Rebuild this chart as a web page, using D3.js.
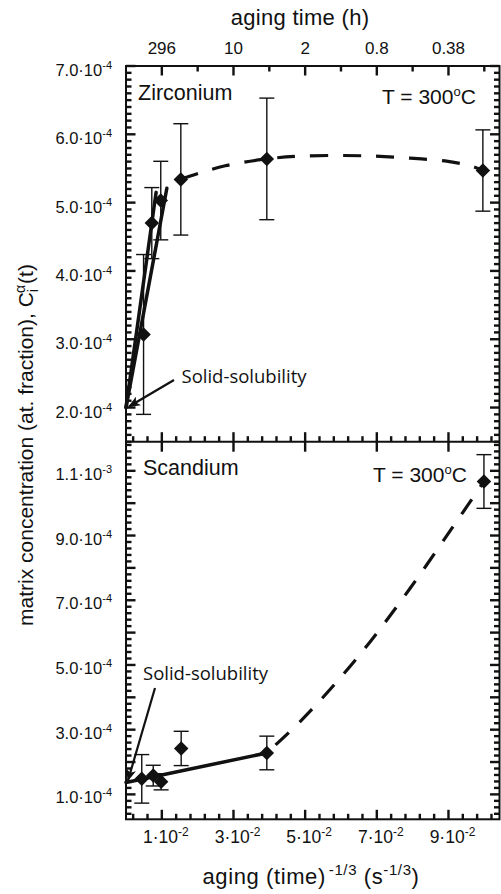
<!DOCTYPE html>
<html>
<head>
<meta charset="utf-8">
<script src="https://cdn.jsdelivr.net/npm/d3@7/dist/d3.min.js"></script>
<style>
  body { margin: 0; background: #fff; }
  text { font-family: "Liberation Sans", Arial, sans-serif; fill: #111; }
  .note { font-family: "Open Sans", "Noto Sans", sans-serif; }
</style>
</head>
<body>
<svg id="chart" width="501" height="894"></svg>
<script>
// ---- Zirconium: matrix concentration vs aging (time)^-1/3 ----
const zrX   = [0.0049, 0.0072, 0.0097, 0.0153, 0.0393, 0.0996];
const zrC   = [3.07e-4, 4.70e-4, 5.03e-4, 5.34e-4, 5.64e-4, 5.47e-4];
const zrErr = [1.17e-4, 0.52e-4, 0.575e-4, 0.815e-4, 0.89e-4, 0.595e-4];
const zrSolubility = 2.0e-4;
// straight fits drawn from the solid-solubility value
const zrFitEndX = [0.0084, 0.0114];
const zrFitEndC = [5.15e-4, 5.21e-4];
// coarsening trend (dashed)
const zrTrendX = [0.0153, 0.0204, 0.0277, 0.0393, 0.0486, 0.0598, 0.0695, 0.0793, 0.0890, 0.0960, 0.0996];
const zrTrendC = [5.34e-4, 5.43e-4, 5.54e-4, 5.64e-4, 5.68e-4, 5.69e-4, 5.68e-4, 5.65e-4, 5.61e-4, 5.54e-4, 5.47e-4];

// ---- Scandium ----
const scX   = [0.0044, 0.0076, 0.0098, 0.0154, 0.0393, 0.0999];
const scC   = [1.48e-4, 1.58e-4, 1.39e-4, 2.42e-4, 2.28e-4, 10.67e-4];
const scErr = [0.75e-4, 0.32e-4, 0.25e-4, 0.53e-4, 0.52e-4, 0.83e-4];
const scSolubility = 1.37e-4;
const scFitEndX = [0.0393];
const scFitEndC = [2.28e-4];
const scTrendX = [0.0393, 0.0486, 0.0578, 0.0681, 0.0793, 0.0905, 0.0999];
const scTrendC = [2.28e-4, 3.25e-4, 4.35e-4, 5.71e-4, 7.37e-4, 9.15e-4, 10.67e-4];

// ---- axis ticks and labels ----
const xMajor = [0.01, 0.03, 0.05, 0.07, 0.09];
const xMantissa = ["1", "3", "5", "7", "9"];
const xExp = "-2";
const topHours = ["296", "10", "2", "0.8", "0.38"];
const zrTicks = [7e-4, 6e-4, 5e-4, 4e-4, 3e-4, 2e-4];
const zrTickMantissa = ["7.0", "6.0", "5.0", "4.0", "3.0", "2.0"];
const zrTickExp = ["-4", "-4", "-4", "-4", "-4", "-4"];
const scTicks = [1.1e-3, 9e-4, 7e-4, 5e-4, 3e-4, 1e-4];
const scTickMantissa = ["1.1", "9.0", "7.0", "5.0", "3.0", "1.0"];
const scTickExp = ["-3", "-4", "-4", "-4", "-4", "-4"];

const svg = d3.select("#chart");
const L = 126, R = 499.5, T = 66, MID = 441.7, B = 819.3;

const x = d3.scaleLinear().domain([0, (R - L) / 3583]).range([L, R]);
const yZr = d3.scaleLinear().domain([1.5e-4, 7.0e-4]).range([MID, T]);
const ySc = d3.scaleLinear().domain([0.23e-4, 1.19e-3]).range([B, MID]);

const near = (a, b) => Math.abs(a - b) < 1e-9;
const xMinor = d3.range(0, 26).map(i => 0.002 + i * 0.004).filter(v => !xMajor.some(m => near(m, v)));
const xTopMinor = d3.range(1, 11).map(i => i * 0.01).filter(v => !xMajor.some(m => near(m, v)));
const zrMajorAll = d3.range(2, 8).map(i => i * 1e-4);
const zrMinor = d3.range(15, 71).map(i => i * 1e-5).filter(v => !zrMajorAll.some(m => near(m, v)));
const scMajorAll = d3.range(1, 12).map(i => i * 1e-4);
const scMinor = d3.range(2, 60).map(i => i * 2e-5).filter(v => !scMajorAll.some(m => near(m, v)));

// frame
svg.append("rect").attr("x", L).attr("y", T).attr("width", R - L).attr("height", B - T)
  .style("fill", "none").style("stroke", "#111").style("stroke-width", "2px");
svg.append("line").attr("x1", L).attr("x2", R).attr("y1", MID).attr("y2", MID)
  .style("stroke", "#111").style("stroke-width", "2px");

// frame tick marks, all pointing into the panels
const tickG = svg.append("g").attr("fill", "#111");
function xTickBars(values, yEdge, len) {
  values.forEach(v => {
    tickG.append("rect").attr("x", x(v) - 1.2).attr("width", 2.4)
      .attr("y", len > 0 ? yEdge : yEdge + len).attr("height", Math.abs(len));
  });
}
function yTickBars(scale, values, xEdge, len) {
  values.forEach(v => {
    tickG.append("rect").attr("y", scale(v) - 1.2).attr("height", 2.4)
      .attr("x", len > 0 ? xEdge : xEdge + len).attr("width", Math.abs(len));
  });
}
xTickBars(xMajor, T, 9.5);  xTickBars(xTopMinor, T, 5.5);
xTickBars(xMajor, MID, -9.5); xTickBars(xMinor, MID, -5.5); xTickBars(xMajor, MID, 10);
xTickBars(xMajor, B, -9.5); xTickBars(xMinor, B, -5.5);
yTickBars(yZr, zrMajorAll, L, 9.5); yTickBars(yZr, zrMinor, L, 5.5);
yTickBars(yZr, zrMajorAll, R, -9.5); yTickBars(yZr, zrMinor, R, -5.5);
yTickBars(ySc, scMajorAll, L, 9.5); yTickBars(ySc, scMinor, L, 5.5);
yTickBars(ySc, scMajorAll, R, -9.5); yTickBars(ySc, scMinor, R, -5.5);

// scientific tick label: mantissa·10^exp
function sciLabel(g, mant, exp, anchor, size) {
  const t = g.append("text").attr("text-anchor", anchor).style("font-size", size + "px");
  t.append("tspan").text(mant + "\u00B710");
  t.append("tspan").attr("dy", -7).style("font-size", Math.round(size * 0.68) + "px").text(exp);
  return t;
}

// y tick labels
zrTicks.forEach((v, i) => {
  const g = svg.append("g").attr("transform", `translate(112,${yZr(v) + 10})`);
  sciLabel(g, zrTickMantissa[i], zrTickExp[i], "end", 16.5);
});
scTicks.forEach((v, i) => {
  const g = svg.append("g").attr("transform", `translate(112,${ySc(v) + 9})`);
  sciLabel(g, scTickMantissa[i], scTickExp[i], "end", 16.5);
});
// bottom x tick labels
xMajor.forEach((v, i) => {
  const g = svg.append("g").attr("transform", `translate(${x(v) + 4},843)`);
  sciLabel(g, xMantissa[i], xExp, "middle", 17.5);
});
// top tick labels (aging time in hours)
xMajor.forEach((v, i) => {
  svg.append("text").attr("x", x(v)).attr("y", 54).attr("text-anchor", "middle")
    .style("font-size", "17px").text(topHours[i]);
});

// axis titles
svg.append("text").attr("x", 300).attr("y", 25).attr("text-anchor", "middle")
  .style("font-size", "22px").style("letter-spacing", "0.3px").text("aging time (h)");

const bt = svg.append("text").attr("x", 311).attr("y", 884).attr("text-anchor", "middle")
  .style("font-size", "22px").style("letter-spacing", "0.6px");
bt.append("tspan").text("aging (time)");
bt.append("tspan").attr("dy", -9).attr("dx", 3).style("font-size", "15px").text("-1/3");
bt.append("tspan").attr("dy", 9).text(" (s");
bt.append("tspan").attr("dy", -9).style("font-size", "15px").text("-1/3");
bt.append("tspan").attr("dy", 9).text(")");

const yt = svg.append("text").attr("transform", "translate(33,445) rotate(-90)")
  .attr("text-anchor", "middle").style("font-size", "21px");
yt.append("tspan").text("matrix concentration (at. fraction), C");
yt.append("tspan").attr("dy", 5).style("font-size", "14px").text("i");
yt.append("tspan").attr("dy", -13).attr("dx", -4).style("font-size", "14px").text("\u03B1");
yt.append("tspan").attr("dy", 8).attr("dx", 1).text("(t)");

// panel titles
svg.append("text").attr("x", 138).attr("y", 100).style("font-size", "21.5px").text("Zirconium");
svg.append("text").attr("x", 143).attr("y", 475).style("font-size", "21.5px").text("Scandium");
function tempLabel(xx, yy) {
  const t = svg.append("text").attr("x", xx).attr("y", yy).style("font-size", "21px");
  t.append("tspan").text("T = 300");
  t.append("tspan").attr("dy", -8).style("font-size", "13px").text("o");
  t.append("tspan").attr("dy", 8).text("C");
}
tempLabel(382, 104);
tempLabel(373, 482);

// arrow marker
const defs = svg.append("defs");
defs.append("marker").attr("id", "arrowhead").attr("markerUnits", "userSpaceOnUse")
  .attr("viewBox", "0 0 12 10").attr("refX", 11).attr("refY", 5)
  .attr("markerWidth", 13).attr("markerHeight", 10).attr("orient", "auto")
  .append("path").attr("d", "M0,0 L12,5 L0,10 L3,5 Z").attr("fill", "#111");

function panel(xs, cs, errs, y, sol, fitX, fitC, trendX, trendC, dashOffset) {
  // straight fits from the solubility value
  fitX.forEach((fx, i) => {
    svg.append("line").attr("x1", x(0)).attr("y1", y(sol)).attr("x2", x(fx)).attr("y2", y(fitC[i]))
      .attr("stroke", "#111").attr("stroke-width", 3.5).attr("stroke-linecap", "round");
  });
  // dashed trend
  const line = d3.line().x(d => x(d[0])).y(d => y(d[1])).curve(d3.curveCatmullRom.alpha(0.5));
  svg.append("path").datum(trendX.map((v, i) => [v, trendC[i]])).attr("d", line)
    .attr("fill", "none").attr("stroke", "#111").attr("stroke-width", 3.2)
    .attr("stroke-dasharray", "18,15").attr("stroke-dashoffset", dashOffset);
  // error bars
  xs.forEach((xv, i) => {
    const g = svg.append("g").attr("stroke", "#111").attr("stroke-width", 1.4);
    const cx = x(xv), y1 = y(cs[i] + errs[i]), y2 = y(cs[i] - errs[i]);
    g.append("line").attr("x1", cx).attr("x2", cx).attr("y1", y1).attr("y2", y2);
    g.append("line").attr("x1", cx - 7.5).attr("x2", cx + 7.5).attr("y1", y1).attr("y2", y1);
    g.append("line").attr("x1", cx - 7.5).attr("x2", cx + 7.5).attr("y1", y2).attr("y2", y2);
  });
  // diamonds
  const sym = d3.symbol().type(d3.symbolSquare).size(105);
  xs.forEach((xv, i) => {
    svg.append("path").attr("d", sym())
      .attr("transform", `translate(${x(xv)},${y(cs[i])}) rotate(45)`).attr("fill", "#111");
  });
}

panel(zrX, zrC, zrErr, yZr, zrSolubility, zrFitEndX, zrFitEndC, zrTrendX, zrTrendC, 0);
panel(scX, scC, scErr, ySc, scSolubility, scFitEndX, scFitEndC, scTrendX, scTrendC, 21);

// solid-solubility annotations
svg.append("text").attr("class", "note").attr("x", 181.5).attr("y", 382.5).style("font-size", "18.5px").text("Solid-solubility");
svg.append("line").attr("x1", 174).attr("y1", 380).attr("x2", x(0) + 3).attr("y2", yZr(zrSolubility) - 1)
  .attr("stroke", "#111").attr("stroke-width", 2.2).attr("marker-end", "url(#arrowhead)");
svg.append("text").attr("class", "note").attr("x", 143).attr("y", 680).style("font-size", "18.5px").text("Solid-solubility");
svg.append("line").attr("x1", 155).attr("y1", 688).attr("x2", x(0) + 2).attr("y2", ySc(scSolubility) - 2)
  .attr("stroke", "#111").attr("stroke-width", 2.2).attr("marker-end", "url(#arrowhead)");
</script>
</body>
</html>
